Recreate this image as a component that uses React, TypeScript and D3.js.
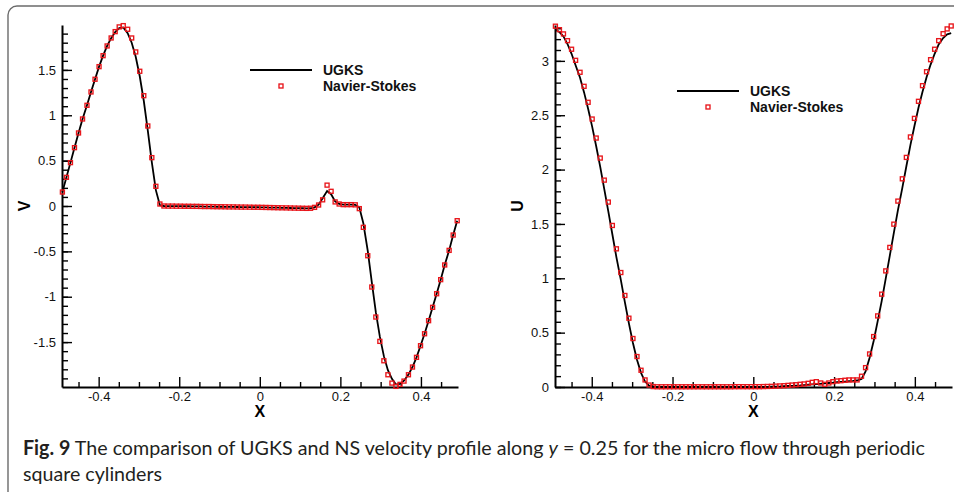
import React, { useEffect, useRef } from 'react';
import * as d3 from 'd3';

// mesh cell centres along the cut y = 0.25
const gridX = [
  -0.490, -0.480, -0.470, -0.460, -0.450, -0.440, -0.429, -0.419, -0.409, -0.399,
  -0.389, -0.379, -0.369, -0.359, -0.349, -0.339, -0.328, -0.318, -0.308, -0.298,
  -0.288, -0.278, -0.268, -0.258, -0.248, -0.238, -0.227, -0.217, -0.207, -0.197,
  -0.187, -0.177, -0.167, -0.157, -0.147, -0.137, -0.126, -0.116, -0.106, -0.096,
  -0.086, -0.076, -0.066, -0.056, -0.046, -0.036, -0.025, -0.015, -0.005, 0.005,
  0.015, 0.025, 0.035, 0.045, 0.055, 0.066, 0.076, 0.086, 0.096, 0.106,
  0.116, 0.126, 0.136, 0.146, 0.156, 0.167, 0.177, 0.187, 0.197, 0.207,
  0.217, 0.227, 0.237, 0.247, 0.257, 0.268, 0.278, 0.288, 0.298, 0.308,
  0.318, 0.328, 0.338, 0.348, 0.358, 0.369, 0.379, 0.389, 0.399, 0.409,
  0.419, 0.429, 0.439, 0.449, 0.459, 0.470, 0.480, 0.490
];

const vNS = [
  0.154, 0.316, 0.478, 0.643, 0.805, 0.959, 1.110, 1.257, 1.397, 1.536,
  1.657, 1.764, 1.852, 1.922, 1.974, 1.988, 1.948, 1.852, 1.698, 1.485,
  1.216, 0.882, 0.533, 0.217, 0.022, 0.000, -0.001, -0.001, -0.002, -0.002,
  -0.003, -0.003, -0.004, -0.004, -0.005, -0.006, -0.006, -0.007, -0.008, -0.008,
  -0.009, -0.010, -0.010, -0.011, -0.012, -0.012, -0.013, -0.014, -0.014, -0.015,
  -0.016, -0.017, -0.018, -0.019, -0.020, -0.021, -0.022, -0.023, -0.024, -0.025,
  -0.026, -0.025, -0.015, 0.011, 0.068, 0.230, 0.162, 0.045, 0.022, 0.015,
  0.015, 0.015, 0.013, -0.029, -0.235, -0.548, -0.893, -1.224, -1.492, -1.706,
  -1.860, -1.952, -1.988, -1.966, -1.930, -1.860, -1.775, -1.668, -1.540, -1.408,
  -1.264, -1.117, -0.967, -0.812, -0.650, -0.489, -0.320, -0.162
];

const vUGKS = [
  0.154, 0.316, 0.478, 0.643, 0.805, 0.959, 1.110, 1.257, 1.397, 1.536,
  1.657, 1.764, 1.850, 1.918, 1.962, 1.968, 1.905, 1.800, 1.645, 1.430,
  1.160, 0.830, 0.480, 0.175, 0.008, 0.000, -0.001, -0.001, -0.002, -0.002,
  -0.003, -0.003, -0.004, -0.004, -0.005, -0.006, -0.006, -0.007, -0.008, -0.008,
  -0.009, -0.010, -0.010, -0.011, -0.012, -0.012, -0.013, -0.014, -0.014, -0.015,
  -0.016, -0.017, -0.018, -0.019, -0.020, -0.021, -0.022, -0.023, -0.024, -0.025,
  -0.026, -0.025, -0.015, 0.015, 0.085, 0.165, 0.130, 0.050, 0.022, 0.015,
  0.015, 0.015, 0.013, -0.015, -0.190, -0.495, -0.840, -1.170, -1.440, -1.655,
  -1.810, -1.905, -1.968, -1.962, -1.926, -1.858, -1.775, -1.668, -1.540, -1.408,
  -1.264, -1.117, -0.967, -0.812, -0.650, -0.489, -0.320, -0.162
];

const uNS = [
  3.319, 3.287, 3.248, 3.186, 3.107, 3.005, 2.895, 2.766, 2.619, 2.465,
  2.290, 2.106, 1.903, 1.701, 1.486, 1.271, 1.053, 0.842, 0.633, 0.446,
  0.280, 0.154, 0.065, 0.018, 0.004, 0.002, 0.002, 0.002, 0.002, 0.002,
  0.002, 0.002, 0.002, 0.002, 0.002, 0.002, 0.002, 0.002, 0.002, 0.002,
  0.002, 0.002, 0.002, 0.002, 0.003, 0.003, 0.003, 0.003, 0.003, 0.003,
  0.003, 0.004, 0.005, 0.006, 0.008, 0.010, 0.012, 0.015, 0.018, 0.021,
  0.025, 0.028, 0.034, 0.043, 0.049, 0.037, 0.025, 0.037, 0.049, 0.055,
  0.058, 0.062, 0.065, 0.065, 0.065, 0.099, 0.178, 0.304, 0.464, 0.654,
  0.854, 1.068, 1.284, 1.498, 1.710, 1.915, 2.112, 2.300, 2.471, 2.628,
  2.772, 2.900, 3.011, 3.107, 3.186, 3.250, 3.294, 3.321
];

const uUGKS = [
  3.285, 3.265, 3.225, 3.155, 3.065, 2.960, 2.845, 2.710, 2.560, 2.395,
  2.215, 2.025, 1.820, 1.615, 1.405, 1.195, 0.985, 0.780, 0.585, 0.405,
  0.250, 0.130, 0.050, 0.012, 0.002, 0.000, 0.000, 0.000, 0.000, 0.000,
  0.000, 0.000, 0.000, 0.000, 0.000, 0.000, 0.000, 0.000, 0.000, 0.000,
  0.000, 0.000, 0.000, 0.000, 0.000, 0.000, 0.000, 0.000, 0.000, 0.000,
  0.000, 0.001, 0.002, 0.003, 0.004, 0.005, 0.007, 0.009, 0.011, 0.013,
  0.015, 0.018, 0.021, 0.024, 0.027, 0.030, 0.034, 0.037, 0.040, 0.044,
  0.047, 0.050, 0.053, 0.056, 0.060, 0.074, 0.143, 0.269, 0.423, 0.606,
  0.792, 1.000, 1.208, 1.417, 1.624, 1.832, 2.031, 2.225, 2.401, 2.569,
  2.716, 2.850, 2.966, 3.065, 3.151, 3.210, 3.244, 3.255
];

const xTicks = [-0.4, -0.2, 0, 0.2, 0.4];
const xMinor = [-0.45, -0.35, -0.3, -0.25, -0.15, -0.1, -0.05, 0.05, 0.1, 0.15, 0.25, 0.3, 0.35, 0.45];
const vTicks = [-1.5, -1, -0.5, 0, 0.5, 1, 1.5];
const vMinor = d3.range(-19, 20).map(k => k / 10);
const uTicks = [0, 0.5, 1, 1.5, 2, 2.5, 3];
const uMinor = d3.range(0, 34).map(k => k / 10);

const seriesNames = ['UGKS', 'Navier-Stokes'];
const captionLead = 'Fig. 9';
const captionA = ' The comparison of UGKS and NS velocity profile along ';
const captionVar = 'y';
const captionB = ' = 0.25 for the micro flow through periodic';
const captionLine2 = 'square cylinders';

const RED = '#e8161b';
const TICK_FONT = '"Liberation Sans", Arial, Helvetica, sans-serif';
const CAP_FONT = 'Lato, "Open Sans", sans-serif';

function drawPanel(svg: any, p: any) {
  const x = d3.scaleLinear().domain([-0.491, 0.492]).range([p.x0, p.x1]);
  const y = d3.scaleLinear().domain(p.yDomain).range([p.yb, p.yt]);
  const g = svg.append('g');

  // minor ticks first, then majors with labels
  g.append('g').attr('transform', `translate(0,${p.yb})`)
    .call(d3.axisBottom(x).tickValues(xMinor).tickSize(-5).tickSizeOuter(0).tickFormat(() => ''))
    .call((s: any) => s.select('.domain').remove());
  g.append('g').attr('transform', `translate(${p.x0},0)`)
    .call(d3.axisLeft(y).tickValues(p.yMinor).tickSize(-6).tickSizeOuter(0).tickFormat(() => ''))
    .call((s: any) => s.select('.domain').remove());

  const xa = g.append('g').attr('transform', `translate(0,${p.yb})`)
    .call(d3.axisBottom(x).tickValues(xTicks).tickSize(-10).tickSizeOuter(0).tickPadding(5)
      .tickFormat((d: any) => String(d)));
  const ya = g.append('g').attr('transform', `translate(${p.x0},0)`)
    .call(d3.axisLeft(y).tickValues(p.yTicks).tickSize(-10).tickSizeOuter(0).tickPadding(6)
      .tickFormat((d: any) => String(d)));

  [xa, ya].forEach(a => {
    a.attr('font-family', TICK_FONT).attr('font-size', 13);
    a.select('.domain').attr('stroke-width', 2);
    a.selectAll('text').attr('fill', '#111');
  });
  g.selectAll('.tick line').attr('stroke-width', 1.4);

  g.append('text').attr('x', x(0)).attr('y', p.yb + 30)
    .attr('text-anchor', 'middle').attr('font-family', TICK_FONT)
    .attr('font-weight', 'bold').attr('font-size', 16).text('X');
  g.append('text').attr('transform', `translate(${p.labelX},${(p.yt + p.yb) / 2}) rotate(-90)`)
    .attr('text-anchor', 'middle').attr('font-family', TICK_FONT)
    .attr('font-weight', 'bold').attr('font-size', 16).text(p.yLabel);

  const line = d3.line<number>().x((d, i) => x(gridX[i])).y(d => y(d));
  g.append('path').datum(p.ugks).attr('d', line)
    .attr('fill', 'none').attr('stroke', '#000').attr('stroke-width', 1.8);

  g.selectAll('rect.ns').data(p.ns).enter().append('rect').attr('class', 'ns')
    .attr('x', (d: number, i: number) => x(gridX[i]) - 2)
    .attr('y', (d: number) => y(d) - 2)
    .attr('width', 4).attr('height', 4)
    .attr('fill', 'none').attr('stroke', RED).attr('stroke-width', 1.35);

  // legend
  const lg = g.append('g').attr('transform', `translate(${p.legX},${p.legY})`);
  lg.append('line').attr('x1', 0).attr('x2', 62).attr('y1', 0).attr('y2', 0)
    .attr('stroke', '#000').attr('stroke-width', 2);
  lg.append('rect').attr('x', 31 - 2).attr('y', 16 - 2).attr('width', 4).attr('height', 4)
    .attr('fill', 'none').attr('stroke', RED).attr('stroke-width', 1.35);
  seriesNames.forEach((name, k) => {
    lg.append('text').attr('x', 73).attr('y', 4.5 + k * 16.5)
      .attr('font-family', TICK_FONT).attr('font-weight', 'bold').attr('font-size', 14)
      .attr('fill', '#111').text(name);
  });
}

export default function App() {
  const ref = useRef<SVGSVGElement>(null);

  useEffect(() => {
    const svg = d3.select(ref.current);
    svg.selectAll('*').remove();

    svg.append('rect').attr('width', 954).attr('height', 492).attr('fill', '#fff');
    svg.append('path').attr('d', 'M8,492V15A9,9 0 0 1 17,6H954')
      .attr('fill', 'none').attr('stroke', '#6b6b6b').attr('stroke-width', 1.4);

    drawPanel(svg, {
      x0: 62, x1: 458, yt: 25, yb: 387, yDomain: [-1.995, 1.995],
      yTicks: vTicks, yMinor: vMinor, yLabel: 'V', labelX: 30,
      ugks: vUGKS, ns: vNS, legX: 250, legY: 70
    });
    drawPanel(svg, {
      x0: 555, x1: 952, yt: 25, yb: 387, yDomain: [0, 3.33],
      yTicks: uTicks, yMinor: uMinor, yLabel: 'U', labelX: 523,
      ugks: uUGKS, ns: uNS, legX: 677, legY: 91
    });

    const cap = svg.append('text').attr('x', 23).attr('y', 455)
      .attr('font-family', CAP_FONT).attr('font-size', 20)
      .attr('fill', '#231f20')
      .attr('textLength', 902).attr('lengthAdjust', 'spacingAndGlyphs');
    cap.append('tspan').attr('font-weight', 'bold').text(captionLead);
    cap.append('tspan').text(captionA);
    cap.append('tspan').attr('font-style', 'italic').text(captionVar);
    cap.append('tspan').text(captionB);

    svg.append('text').attr('x', 23).attr('y', 481)
      .attr('font-family', CAP_FONT).attr('font-size', 20)
      .attr('fill', '#231f20')
      .attr('textLength', 139).attr('lengthAdjust', 'spacingAndGlyphs')
      .text(captionLine2);
  }, []);

  return (
    <svg ref={ref} width={954} height={492}
      style={{ position: 'absolute', left: 0, top: 0, display: 'block' }} />
  );
}
